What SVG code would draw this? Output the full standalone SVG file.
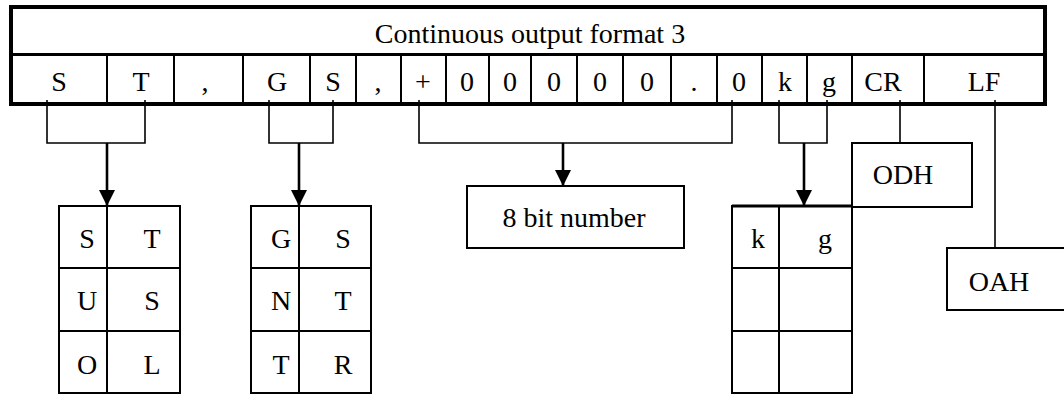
<svg xmlns="http://www.w3.org/2000/svg" width="1064" height="394" viewBox="0 0 1064 394">
<style>
text{font-family:"Liberation Serif","Times New Roman",serif;font-size:28px;fill:#000;text-anchor:middle}
.thin{fill:none;stroke:#000;stroke-width:1.6}
.cell{fill:none;stroke:#000;stroke-width:2}
.arrow{fill:none;stroke:#000;stroke-width:2.6}
</style>
<defs>
<marker id="ah" markerUnits="userSpaceOnUse" markerWidth="16" markerHeight="17" refX="8" refY="16" orient="0" viewBox="0 0 16 17">
<path d="M0,0 L16,0 L8,16 Z" fill="#000"/>
</marker>
</defs>
<rect width="1064" height="394" fill="#fff"/>
<g id="format-table">
<rect x="11" y="7" width="1034" height="97" fill="none" stroke="#000" stroke-width="4"/>
<line x1="11" y1="54.5" x2="1045" y2="54.5" stroke="#000" stroke-width="3"/>
<g class="cell">
<line x1="107" y1="56" x2="107" y2="103"/>
<line x1="174" y1="56" x2="174" y2="103"/>
<line x1="243" y1="56" x2="243" y2="103"/>
<line x1="310" y1="56" x2="310" y2="103"/>
<line x1="356" y1="56" x2="356" y2="103"/>
<line x1="401" y1="56" x2="401" y2="103"/>
<line x1="446" y1="56" x2="446" y2="103"/>
<line x1="489" y1="56" x2="489" y2="103"/>
<line x1="531" y1="56" x2="531" y2="103"/>
<line x1="577" y1="56" x2="577" y2="103"/>
<line x1="623" y1="56" x2="623" y2="103"/>
<line x1="671" y1="56" x2="671" y2="103"/>
<line x1="717" y1="56" x2="717" y2="103"/>
<line x1="762" y1="56" x2="762" y2="103"/>
<line x1="807" y1="56" x2="807" y2="103"/>
<line x1="852" y1="56" x2="852" y2="103"/>
<line x1="924" y1="56" x2="924" y2="103"/>
</g>
<text x="530" y="43">Continuous output format 3</text>
<text x="59" y="91">S</text>
<text x="141" y="91">T</text>
<text x="205" y="91">,</text>
<text x="277" y="91">G</text>
<text x="333" y="91">S</text>
<text x="378" y="91">,</text>
<text x="423" y="91">+</text>
<text x="467" y="91">0</text>
<text x="510" y="91">0</text>
<text x="554" y="91">0</text>
<text x="600" y="91">0</text>
<text x="647" y="91">0</text>
<text x="694" y="91">.</text>
<text x="739" y="91">0</text>
<text x="785" y="91">k</text>
<text x="829" y="91">g</text>
<text x="883" y="91">CR</text>
<text x="984" y="91">LF</text>
</g>
<g id="connectors">
<polyline class="thin" points="47,100 47,143 145,143 145,100"/>
<line class="arrow" x1="107" y1="143" x2="107" y2="206" marker-end="url(#ah)"/>
<polyline class="thin" points="269,100 269,143 333,143 333,100"/>
<line class="arrow" x1="299" y1="143" x2="299" y2="206" marker-end="url(#ah)"/>
<polyline class="thin" points="419,100 419,143 732,143 732,100"/>
<line class="arrow" x1="563" y1="143" x2="563" y2="186" marker-end="url(#ah)"/>
<polyline class="thin" points="779,100 779,143 827,143 827,100"/>
<line class="arrow" x1="804" y1="143" x2="804" y2="206" marker-end="url(#ah)"/>
<line class="thin" x1="900" y1="100" x2="900" y2="143"/>
<line class="thin" x1="995" y1="100" x2="995" y2="248"/>
</g>
<g id="status-table">
<rect class="cell" x="59" y="206" width="121" height="187"/>
<line class="cell" x1="107" y1="206" x2="107" y2="393"/>
<line class="cell" x1="59" y1="268" x2="180" y2="268"/>
<line class="cell" x1="59" y1="331" x2="180" y2="331"/>
<text x="87" y="248">S</text><text x="152" y="248">T</text>
<text x="87" y="310">U</text><text x="152" y="310">S</text>
<text x="87" y="374">O</text><text x="152" y="374">L</text>
</g>
<g id="gross-net-table">
<rect class="cell" x="251" y="206" width="120" height="187"/>
<line class="cell" x1="299" y1="206" x2="299" y2="393"/>
<line class="cell" x1="251" y1="268" x2="371" y2="268"/>
<line class="cell" x1="251" y1="331" x2="371" y2="331"/>
<text x="281" y="248">G</text><text x="343" y="248">S</text>
<text x="281" y="310">N</text><text x="343" y="310">T</text>
<text x="281" y="374">T</text><text x="343" y="374">R</text>
</g>
<g id="number-box">
<rect class="cell" x="467" y="186" width="217" height="62"/>
<text x="574" y="227">8 bit number</text>
</g>
<g id="unit-table">
<rect class="cell" x="732" y="206" width="120" height="187"/>
<line x1="732" y1="206" x2="852" y2="206" stroke="#000" stroke-width="3"/>
<line class="cell" x1="779" y1="206" x2="779" y2="393"/>
<line class="cell" x1="732" y1="268" x2="852" y2="268"/>
<line class="cell" x1="732" y1="331" x2="852" y2="331"/>
<text x="758" y="248">k</text><text x="825" y="248">g</text>
</g>
<g id="odh-box">
<rect class="cell" x="852" y="143" width="120" height="64"/>
<text x="903" y="184">ODH</text>
</g>
<g id="oah-box">
<rect class="cell" x="947" y="248" width="125" height="62"/>
<text x="999" y="291">OAH</text>
</g>
</svg>
